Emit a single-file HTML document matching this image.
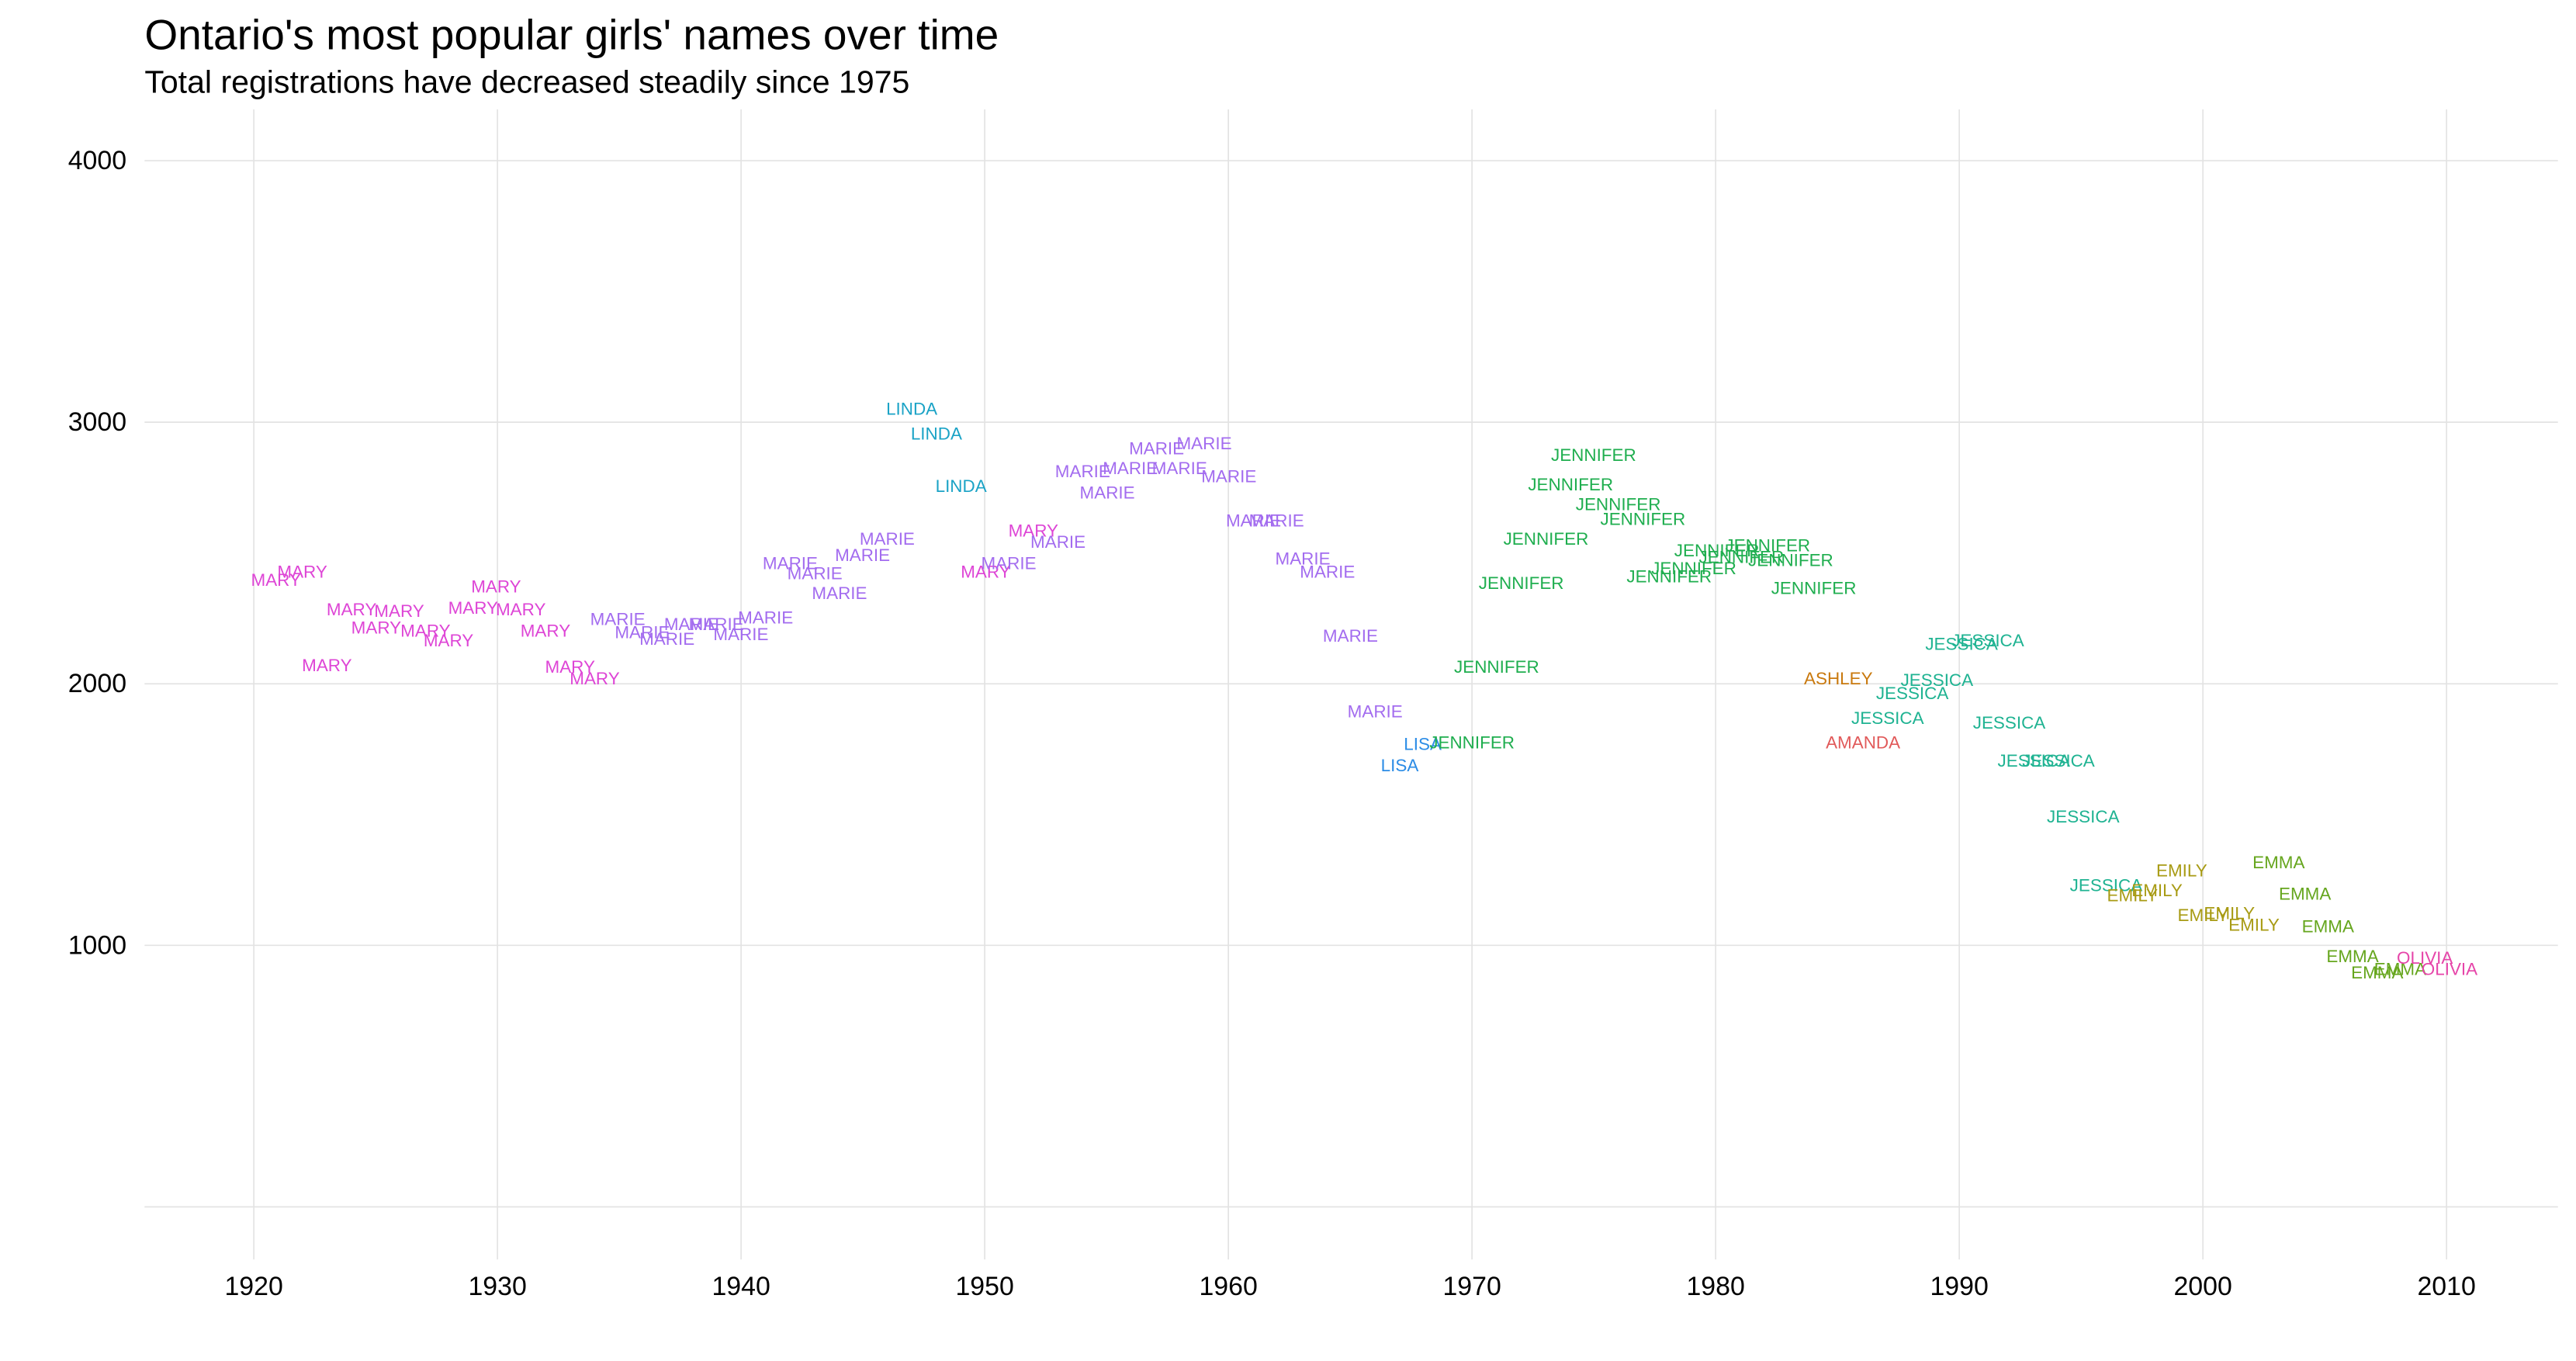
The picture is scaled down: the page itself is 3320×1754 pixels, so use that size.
<!DOCTYPE html>
<html><head><meta charset="utf-8"><style>
html,body{margin:0;padding:0;background:#fff;}
svg{display:block;}
text{font-family:"Liberation Sans",Arial,sans-serif;}
.l{font-size:10.6px;text-anchor:middle;dominant-baseline:central;}
.ty{font-size:16px;text-anchor:end;dominant-baseline:central;fill:#000;}
.tx{font-size:16px;text-anchor:middle;dominant-baseline:central;fill:#000;}
.MARY{fill:#DE45D6}.MARIE{fill:#A36CEF}.LINDA{fill:#1BA3C6}.JEN{fill:#1FAE4F}.LISA{fill:#2B8CE6}.JES{fill:#1FB392}.ASH{fill:#C9790E}.AMA{fill:#E15A5A}.EMI{fill:#A89B14}.EMMA{fill:#66A61E}.OLI{fill:#E645A9}
</style></head><body>
<svg width="3320" height="1754" viewBox="0 0 1568 828.4" preserveAspectRatio="none" xmlns="http://www.w3.org/2000/svg">
<rect width="1568" height="828.4" fill="#fff"/>
<g stroke="#e3e3e3" stroke-width="0.8">
<line x1="88" x2="1557" y1="97.8" y2="97.8"/>
<line x1="88" x2="1557" y1="257" y2="257"/>
<line x1="88" x2="1557" y1="416.2" y2="416.2"/>
<line x1="88" x2="1557" y1="575.4" y2="575.4"/>
<line x1="88" x2="1557" y1="734.6" y2="734.6"/>
<line y1="66.6" y2="766.6" x1="154.5" x2="154.5"/>
<line y1="66.6" y2="766.6" x1="302.8" x2="302.8"/>
<line y1="66.6" y2="766.6" x1="451.1" x2="451.1"/>
<line y1="66.6" y2="766.6" x1="599.4" x2="599.4"/>
<line y1="66.6" y2="766.6" x1="747.7" x2="747.7"/>
<line y1="66.6" y2="766.6" x1="896" x2="896"/>
<line y1="66.6" y2="766.6" x1="1044.3" x2="1044.3"/>
<line y1="66.6" y2="766.6" x1="1192.6" x2="1192.6"/>
<line y1="66.6" y2="766.6" x1="1340.9" x2="1340.9"/>
<line y1="66.6" y2="766.6" x1="1489.2" x2="1489.2"/>
</g>
<text x="88" y="30" font-size="26" fill="#000">Ontario's most popular girls' names over time</text>
<text x="88" y="56.5" font-size="19.4" fill="#000">Total registrations have decreased steadily since 1975</text>
<text class="ty" x="77" y="97.8">4000</text>
<text class="ty" x="77" y="257">3000</text>
<text class="ty" x="77" y="416.2">2000</text>
<text class="ty" x="77" y="575.4">1000</text>
<text class="tx" x="154.5" y="783">1920</text>
<text class="tx" x="302.8" y="783">1930</text>
<text class="tx" x="451.1" y="783">1940</text>
<text class="tx" x="599.4" y="783">1950</text>
<text class="tx" x="747.7" y="783">1960</text>
<text class="tx" x="896" y="783">1970</text>
<text class="tx" x="1044.3" y="783">1980</text>
<text class="tx" x="1192.6" y="783">1990</text>
<text class="tx" x="1340.9" y="783">2000</text>
<text class="tx" x="1489.2" y="783">2010</text>
<g class="l MARY">
<text x="168" y="353">MARY</text><text x="184" y="348">MARY</text><text x="214" y="371">MARY</text><text x="243" y="372">MARY</text><text x="229" y="382">MARY</text><text x="259" y="384">MARY</text><text x="273" y="390">MARY</text><text x="302" y="357">MARY</text><text x="288" y="370">MARY</text><text x="317" y="371">MARY</text><text x="332" y="384">MARY</text><text x="199" y="405">MARY</text><text x="347" y="406">MARY</text><text x="362" y="413">MARY</text><text x="629" y="323">MARY</text><text x="600" y="348">MARY</text>
</g>
<g class="l MARIE">
<text x="376" y="377">MARIE</text><text x="391" y="385">MARIE</text><text x="406" y="389">MARIE</text><text x="421" y="380">MARIE</text><text x="436" y="380">MARIE</text><text x="451" y="386">MARIE</text><text x="466" y="376">MARIE</text><text x="481" y="343">MARIE</text><text x="496" y="349">MARIE</text><text x="511" y="361">MARIE</text><text x="525" y="338">MARIE</text><text x="540" y="328">MARIE</text><text x="614" y="343">MARIE</text><text x="644" y="330">MARIE</text><text x="659" y="287">MARIE</text><text x="674" y="300">MARIE</text><text x="688" y="285">MARIE</text><text x="704" y="273">MARIE</text><text x="718" y="285">MARIE</text><text x="733" y="270">MARIE</text><text x="748" y="290">MARIE</text><text x="763" y="317">MARIE</text><text x="777" y="317">MARIE</text><text x="793" y="340">MARIE</text><text x="808" y="348">MARIE</text><text x="822" y="387">MARIE</text><text x="837" y="433">MARIE</text>
</g>
<g class="l LINDA"><text x="555" y="249">LINDA</text><text x="570" y="264">LINDA</text><text x="585" y="296">LINDA</text></g>
<g class="l LISA"><text x="852" y="466">LISA</text><text x="866" y="453">LISA</text></g>
<g class="l JEN">
<text x="970" y="277">JENNIFER</text><text x="956" y="295">JENNIFER</text><text x="985" y="307">JENNIFER</text><text x="1000" y="316">JENNIFER</text><text x="941" y="328">JENNIFER</text><text x="926" y="355">JENNIFER</text><text x="911" y="406">JENNIFER</text><text x="896" y="452">JENNIFER</text><text x="1016" y="351">JENNIFER</text><text x="1031" y="346">JENNIFER</text><text x="1045" y="335">JENNIFER</text><text x="1060" y="339">JENNIFER</text><text x="1076" y="332">JENNIFER</text><text x="1090" y="341">JENNIFER</text><text x="1104" y="358">JENNIFER</text>
</g>
<g class="l ASH"><text x="1119" y="413">ASHLEY</text></g>
<g class="l AMA"><text x="1134" y="452">AMANDA</text></g>
<g class="l JES">
<text x="1194" y="392">JESSICA</text><text x="1210" y="390">JESSICA</text><text x="1179" y="414">JESSICA</text><text x="1164" y="422">JESSICA</text><text x="1149" y="437">JESSICA</text><text x="1223" y="440">JESSICA</text><text x="1238" y="463">JESSICA</text><text x="1253" y="463">JESSICA</text><text x="1268" y="497">JESSICA</text><text x="1282" y="539">JESSICA</text>
</g>
<g class="l EMI">
<text x="1328" y="530">EMILY</text><text x="1313" y="542">EMILY</text><text x="1298" y="545">EMILY</text><text x="1341" y="557">EMILY</text><text x="1357" y="556">EMILY</text><text x="1372" y="563">EMILY</text>
</g>
<g class="l EMMA">
<text x="1387" y="525">EMMA</text><text x="1403" y="544">EMMA</text><text x="1417" y="564">EMMA</text><text x="1432" y="582">EMMA</text><text x="1447" y="592">EMMA</text><text x="1461" y="590">EMMA</text>
</g>
<g class="l OLI"><text x="1476" y="583">OLIVIA</text><text x="1491" y="590">OLIVIA</text></g>
</svg>
</body></html>
